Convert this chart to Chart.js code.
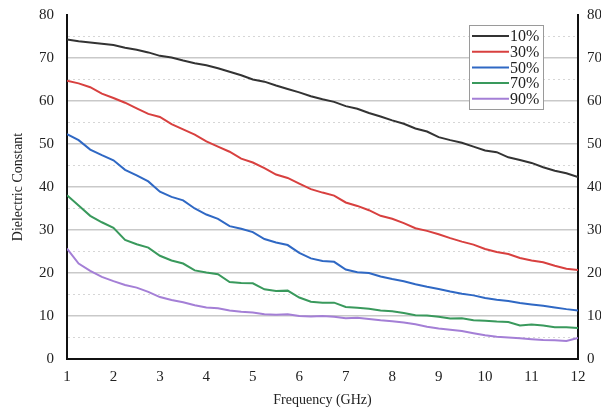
<!DOCTYPE html>
<html>
<head>
<meta charset="utf-8">
<script src="https://cdn.jsdelivr.net/npm/chart.js@4.4.1/dist/chart.umd.min.js"></script>
<style>
  html, body { margin: 0; padding: 0; background: #fff; }
  #wrap { width: 601px; height: 409px; }
</style>
</head>
<body>
<div id="wrap"><canvas id="c" width="601" height="409"></canvas></div>
<script>
// frequency points (GHz)
const freq = [1, 1.25, 1.5, 1.75, 2, 2.25, 2.5, 2.75, 3, 3.25, 3.5, 3.75, 4, 4.25, 4.5, 4.75,
  5, 5.25, 5.5, 5.75, 6, 6.25, 6.5, 6.75, 7, 7.25, 7.5, 7.75, 8, 8.25, 8.5, 8.75,
  9, 9.25, 9.5, 9.75, 10, 10.25, 10.5, 10.75, 11, 11.25, 11.5, 11.75, 12];

const seriesLabels = ['10%', '30%', '50%', '70%', '90%'];

const eps10 = [74.3, 73.9, 73.6, 73.3, 73.0, 72.4, 71.9, 71.3, 70.5, 70.1, 69.4, 68.8, 68.3, 67.6, 66.8, 66.0,
  65.0, 64.5, 63.6, 62.8, 62.0, 61.1, 60.4, 59.8, 58.8, 58.2, 57.2, 56.4, 55.5, 54.7, 53.6, 52.9,
  51.6, 50.9, 50.3, 49.4, 48.5, 48.1, 46.9, 46.3, 45.6, 44.6, 43.8, 43.2, 42.3];
const eps30 = [64.7, 64.1, 63.2, 61.7, 60.7, 59.6, 58.3, 57.0, 56.3, 54.6, 53.4, 52.2, 50.6, 49.4, 48.2, 46.6,
  45.7, 44.4, 42.9, 42.1, 40.8, 39.5, 38.7, 38.0, 36.4, 35.6, 34.6, 33.3, 32.6, 31.6, 30.4, 29.8,
  29.0, 28.1, 27.3, 26.6, 25.6, 24.9, 24.4, 23.5, 22.9, 22.5, 21.7, 21.0, 20.7];
const eps50 = [52.3, 50.9, 48.7, 47.4, 46.2, 44.0, 42.7, 41.3, 38.9, 37.7, 36.9, 35.0, 33.6, 32.6, 30.9, 30.3,
  29.5, 27.9, 27.1, 26.5, 24.7, 23.4, 22.8, 22.6, 20.8, 20.2, 20.0, 19.2, 18.6, 18.1, 17.4, 16.8,
  16.3, 15.7, 15.2, 14.8, 14.2, 13.8, 13.5, 13.0, 12.7, 12.4, 12.0, 11.6, 11.3];
const eps70 = [38.1, 35.7, 33.3, 31.8, 30.5, 27.7, 26.7, 25.9, 24.0, 22.9, 22.2, 20.6, 20.1, 19.7, 17.9, 17.7,
  17.6, 16.2, 15.8, 15.9, 14.3, 13.3, 13.1, 13.1, 12.1, 11.9, 11.7, 11.3, 11.1, 10.7, 10.2, 10.1,
  9.8, 9.4, 9.5, 9.0, 8.9, 8.7, 8.6, 7.8, 8.0, 7.8, 7.4, 7.4, 7.2];
const eps90 = [25.7, 22.2, 20.5, 19.1, 18.1, 17.2, 16.6, 15.6, 14.4, 13.7, 13.2, 12.5, 12.0, 11.8, 11.3, 11.0,
  10.8, 10.4, 10.3, 10.4, 10.0, 9.9, 10.0, 9.8, 9.5, 9.6, 9.3, 9.0, 8.8, 8.5, 8.1, 7.5,
  7.1, 6.8, 6.5, 6.0, 5.5, 5.2, 5.0, 4.8, 4.6, 4.4, 4.35, 4.2, 4.9];

const colors = ['#333333', '#d8403f', '#2f68c4', '#39995c', '#a47fd6'];
const allSeries = [eps10, eps30, eps50, eps70, eps90];

const serif = '"Liberation Serif", "DejaVu Serif", serif';

const datasets = allSeries.map((vals, i) => ({
  label: seriesLabels[i],
  data: vals.map((v, j) => ({ x: freq[j], y: v })),
  borderColor: colors[i],
  backgroundColor: colors[i],
  borderWidth: 2,
  pointRadius: 0,
  tension: 0,
  yAxisID: 'y'
}));

// legend box drawn inside the plot, top right
const boxLegend = {
  id: 'boxLegend',
  afterDraw(chart) {
    const ctx = chart.ctx;
    const x0 = 469, y0 = 25, w = 74, h = 84;
    ctx.save();
    ctx.fillStyle = '#fff';
    ctx.fillRect(x0, y0, w, h);
    ctx.strokeStyle = '#9a9a9a';
    ctx.lineWidth = 1;
    ctx.strokeRect(x0 + 0.5, y0 + 0.5, w, h);
    ctx.font = '16px ' + serif;
    ctx.textBaseline = 'middle';
    chart.data.datasets.forEach((ds, i) => {
      const yy = y0 + 11 + i * 15.7;
      ctx.strokeStyle = ds.borderColor;
      ctx.lineWidth = 2;
      ctx.beginPath();
      ctx.moveTo(x0 + 3, yy);
      ctx.lineTo(x0 + 40, yy);
      ctx.stroke();
      ctx.fillStyle = '#222';
      ctx.fillText(ds.label, x0 + 41, yy + 1);
    });
    ctx.restore();
  }
};

const noPad = (s) => { s.paddingTop = 0; s.paddingBottom = 0; };

new Chart(document.getElementById('c'), {
  type: 'line',
  data: { datasets },
  options: {
    responsive: false,
    animation: false,
    layout: { padding: { top: 15, right: 0, bottom: 0, left: 0 } },
    plugins: { legend: { display: false }, tooltip: { enabled: false } },
    scales: {
      x: {
        type: 'linear',
        min: 1,
        max: 12,
        ticks: { stepSize: 1, color: '#222', font: { family: serif, size: 15 }, padding: 9 },
        grid: { display: false, drawTicks: false },
        border: { display: true, color: '#111', width: 2 },
        title: { display: true, text: 'Frequency (GHz)', color: '#222', font: { family: serif, size: 14 }, padding: { top: 4, bottom: 0 } },
        afterFit: (s) => { s.height = 50; s.paddingLeft = 0; s.paddingRight = 0; }
      },
      y: {
        position: 'left',
        min: 0,
        max: 80,
        ticks: {
          stepSize: 5,
          color: '#222',
          font: { family: serif, size: 15 },
          padding: 13,
          callback: (v) => (v % 10 === 0 ? v : '')
        },
        grid: {
          drawTicks: false,
          color: (c) => {
            const v = c.tick ? c.tick.value : 0;
            if (v === 0 || v === 80) return 'rgba(0,0,0,0)';
            return v % 10 === 0 ? '#c9c9c9' : '#d6d6d6';
          },
          lineWidth: (c) => (c.tick && c.tick.value % 10 === 0 ? 1.5 : 1)
        },
        border: {
          display: true,
          color: '#111',
          width: 2,
          dash: (c) => (c.tick && c.tick.value % 10 !== 0 ? [2, 3] : [])
        },
        title: { display: true, text: 'Dielectric Constant', color: '#222', font: { family: serif, size: 14 }, padding: { top: 10, bottom: 4 } },
        afterFit: (s) => { s.width = 67; noPad(s); }
      },
      y2: {
        position: 'right',
        min: 0,
        max: 80,
        ticks: { stepSize: 10, color: '#222', font: { family: serif, size: 15 }, padding: 9 },
        grid: { display: false, drawTicks: false },
        border: { display: true, color: '#111', width: 2 },
        afterFit: (s) => { s.width = 23; noPad(s); }
      }
    }
  },
  plugins: [boxLegend]
});
</script>
</body>
</html>
